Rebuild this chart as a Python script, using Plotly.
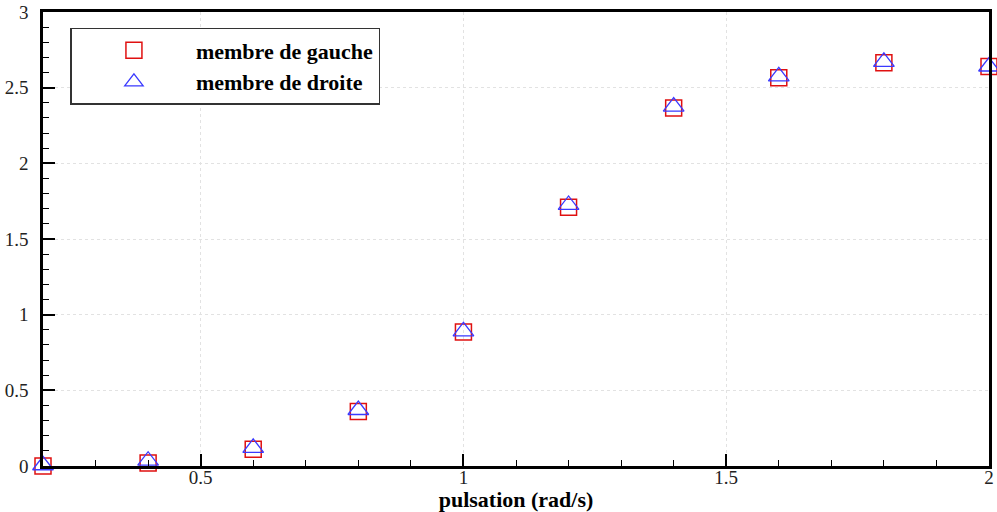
import plotly.graph_objects as go

# pulsation (rad/s)
pulsation = [0.2, 0.4, 0.6, 0.8, 1.0, 1.2, 1.4, 1.6, 1.8, 2.0]
membre_gauche = [0.0, 0.02, 0.11, 0.36, 0.885, 1.71, 2.365, 2.565, 2.665, 2.64]
membre_droite = [0.005, 0.035, 0.12, 0.37, 0.89, 1.725, 2.375, 2.575, 2.67, 2.64]

x_ticks = [0.5, 1.0, 1.5, 2.0]
x_labels = ['0.5', '1', '1.5', '2']
y_ticks = [0, 0.5, 1.0, 1.5, 2.0, 2.5, 3.0]
y_labels = ['0', '0.5', '1', '1.5', '2', '2.5', '3']

font_serif = 'Liberation Serif, Times New Roman, serif'

fig = go.Figure()
fig.add_trace(go.Scatter(
    x=pulsation, y=membre_gauche, mode='markers', name='membre de gauche',
    marker=dict(symbol='square-open', size=16, color='#e01010', line=dict(width=1.5)),
    cliponaxis=False,
))
fig.add_trace(go.Scatter(
    x=pulsation, y=membre_droite, mode='markers', name='membre de droite',
    marker=dict(symbol='triangle-up-open', size=18, color='#3a3aff', line=dict(width=1.3)),
    cliponaxis=False,
))

axis_common = dict(
    showline=True, linecolor='black', linewidth=2.5, mirror=True,
    ticks='inside', ticklen=12, tickwidth=2, tickcolor='black',
    showgrid=True, gridcolor='#e2e2e2', griddash='dot', gridwidth=1,
    zeroline=False, automargin=False, ticklabeloverflow='allow',
    tickfont=dict(family=font_serif, size=19, color='#222222'),
)

fig.update_xaxes(
    range=[0.2, 2.0], tickmode='array', tickvals=x_ticks, ticktext=x_labels,
    minor=dict(tickmode='linear', tick0=0.2, dtick=0.1, ticks='inside', ticklen=6,
               tickwidth=1.2, tickcolor='black', showgrid=False),
    ticklabelstandoff=-8,
    title=dict(text='<b>pulsation (rad/s)</b>', font=dict(family=font_serif, size=22, color='black'), standoff=0),
    **axis_common,
)
fig.update_yaxes(
    range=[0, 3], tickmode='array', tickvals=y_ticks, ticktext=y_labels,
    minor=dict(tickmode='linear', tick0=0, dtick=0.1, ticks='inside', ticklen=6,
               tickwidth=1.2, tickcolor='black', showgrid=False),
    ticklabelstandoff=8,
    **axis_common,
)

fig.update_layout(
    width=997, height=512,
    margin=dict(l=43, r=8, t=12, b=46),
    plot_bgcolor='white', paper_bgcolor='white',
    showlegend=True,
    font=dict(family=font_serif),
    legend=dict(
        x=0.029, y=0.965, xanchor='left', yanchor='top',
        bgcolor='white', bordercolor='#333333', borderwidth=1.5,
        font=dict(family=font_serif, size=22, color='black', weight='bold'),
        itemwidth=114, tracegroupgap=0,
    ),
)

# drop the default page margin so the figure sits at the window's corner
fig.write_html('out.html', config={'displayModeBar': False},
               post_script="document.body.style.margin='0';")
